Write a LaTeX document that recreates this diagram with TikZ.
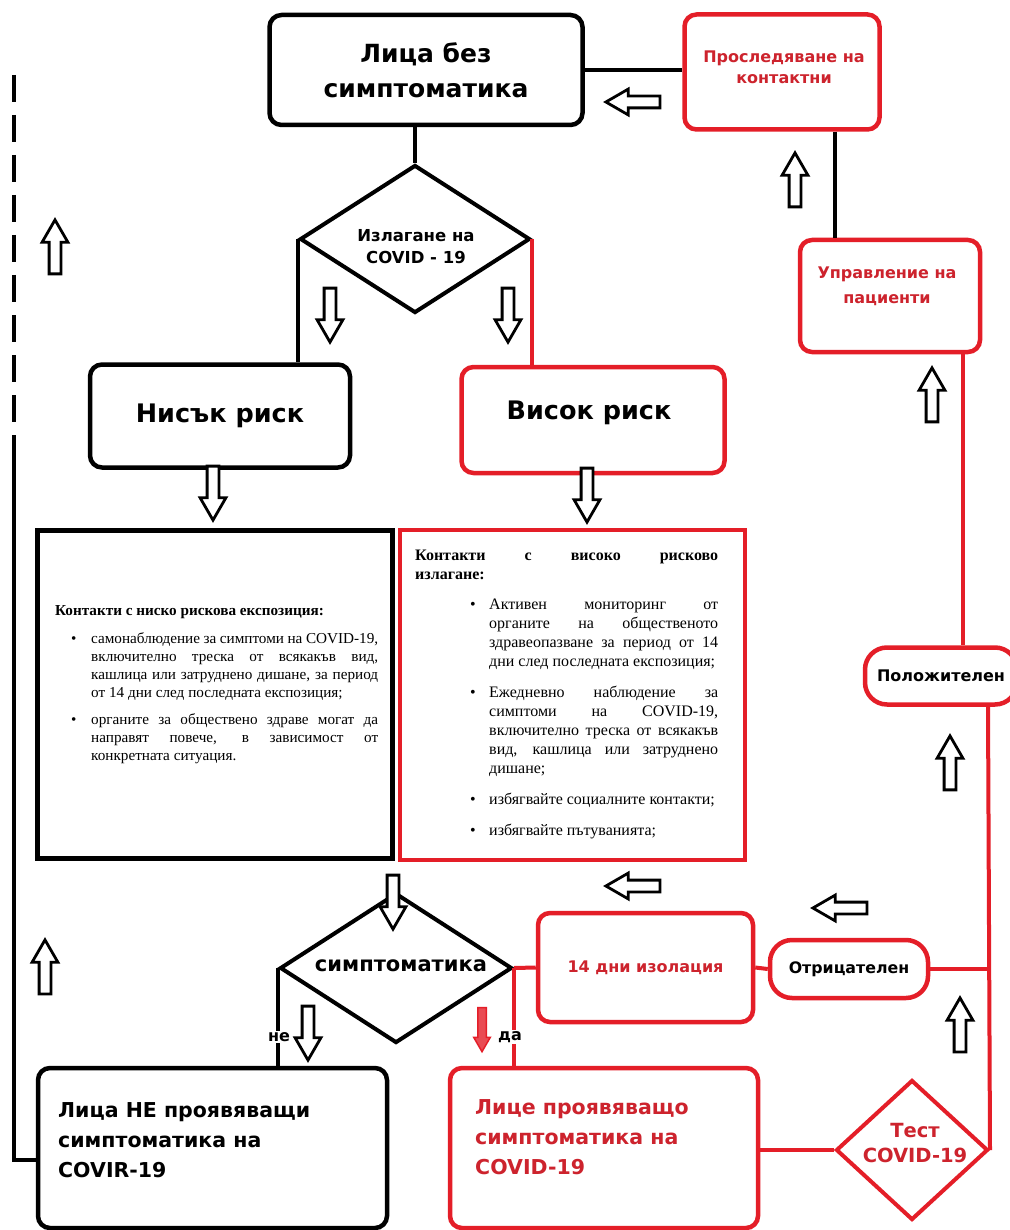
\documentclass[tikz,border=0pt]{standalone}
\usepackage{fontspec}
\setmainfont{Liberation Serif}
\newfontfamily\dvs{DejaVu Sans}
\usetikzlibrary{shapes.geometric,shapes.arrows}
\definecolor{rd}{RGB}{228,30,40}
\definecolor{rdt}{RGB}{205,35,45}
\newcommand\sfb[2]{\dvs\bfseries\fontsize{#1}{#2}\selectfont}
\newcommand\jl[2]{\makebox[#1][s]{#2}}
\begin{document}
\begin{tikzpicture}[x=1pt,y=-1pt,
  bx/.style={draw=black, line width=4.5pt, rounded corners=12pt, fill=white, inner sep=0pt},
  rbx/.style={bx, draw=rd},
  dia/.style={diamond, draw=black, line width=4pt, fill=white, inner sep=0pt},
  lnk/.style={line width=4pt, black},
  rlnk/.style={line width=4pt, rd},
  txt/.style={inner sep=0pt},
  harrow/.style={single arrow, draw=black, fill=white, line width=2.8pt, minimum height=54pt, inner xsep=0pt, inner ysep=4.5pt, single arrow head extend=7pt, single arrow tip angle=60},
  lbl/.style={fill=white, inner sep=1.5pt, font=\sfb{16}{18}}
]
\useasboundingbox (0,0) rectangle (1009,1230);
\fill[white] (0,0) rectangle (1009,1230);

% coordinates for vertical runs
\coordinate (tv) at (835,0);
\coordinate (mv) at (963,0);
\coordinate (rv) at (988,0);
\coordinate (lb) at (14,1160);
\coordinate (lm) at (14,443);
\coordinate (lt) at (14,75);

% boxes
\node[bx, minimum width=313pt, minimum height=110pt, align=center, font=\sfb{25}{35}] (top) at (426,70) {Лица без\\симптоматика};
\node[rbx, minimum width=195pt, minimum height=115pt] (trace) at (782,72) {};
\node[txt, font=\sfb{16}{21}, text=rdt, align=center] (traceT) at (784,67) {Проследяване на\\контактни};
\node[rbx, minimum width=180pt, minimum height=112pt] (mgmt) at (890,296) {};
\node[txt, font=\sfb{16}{25}, text=rdt, align=center] (mgmtT) at (887,286) {Управление на\\пациенти};

\node[dia, minimum width=230pt, minimum height=148pt] (expo) at (415,239) {};
\node[txt, font=\sfb{16.5}{22}, align=center] (expoT) at (416,247) {Излагане на\\COVID - 19};

\node[bx, minimum width=260pt, minimum height=103pt, font=\sfb{25.5}{30}] (low) at (220,416) {Нисък риск};
\node[rbx, minimum width=263pt, minimum height=106pt] (high) at (593,420) {};
\node[txt, font=\sfb{25.5}{30}] (highT) at (589,413) {Висок риск};

\node[draw=black, line width=5pt, minimum width=355pt, minimum height=328pt, inner sep=0pt] (lowBox) at (214.5,694) {};
\node[draw=rd, line width=4.5pt, minimum width=345pt, minimum height=330pt, inner sep=0pt] (highBox) at (572.5,695) {};

\node[dia, minimum width=232pt, minimum height=150pt] (sym) at (396,968) {};
\node[txt, font=\sfb{21}{24}] (symT) at (401,966) {симптоматика};

\node[rbx, minimum width=215pt, minimum height=109pt, font=\sfb{16}{18}, text=rdt] (iso) at (645.5,967.5) {14 дни изолация};
\node[rbx, rounded corners=22pt, minimum width=158pt, minimum height=58pt, font=\sfb{15.8}{18}] (neg) at (849,969) {Отрицателен};
\node[rbx, rounded corners=22pt, minimum width=152pt, minimum height=57pt, font=\sfb{16}{18}] (pos) at (941,676) {Положителен};
\node[dia, draw=rd, minimum width=152pt, minimum height=140pt] (test) at (912,1150) {};
\node[txt, font=\sfb{19.5}{25}, text=rdt, align=center] (testT) at (915,1143) {Тест\\COVID-19};

\node[bx, minimum width=349pt, minimum height=160pt] (noSym) at (212.5,1148) {};
\node[txt, font=\sfb{20.5}{30}, align=left, anchor=west] (noSymT) at (58,1140) {Лица НЕ проявяващи\\симптоматика на\\COVIR-19};
\node[rbx, minimum width=308pt, minimum height=160pt] (symBox) at (604,1148) {};
\node[txt, font=\sfb{20.5}{30}, text=rdt, align=left, anchor=west] (symBoxT) at (475,1137) {Лице проявяващо\\симптоматика на\\COVID-19};

% text of the two info boxes
\node[txt, anchor=north west, align=left, font=\fontsize{15.2}{18}\selectfont] (lowTxt) at (55,605) {%
{\bfseries Контакти с ниско рискова експозиция:}\\[10pt]
\hspace*{16pt}\makebox[20pt][l]{•}\jl{287pt}{самонаблюдение за симптоми на COVID-19,}\\
\hspace*{36pt}\jl{287pt}{включително треска от всякакъв вид,}\\
\hspace*{36pt}\jl{287pt}{кашлица или затруднено дишане, за период}\\
\hspace*{36pt}от 14 дни след последната експозиция;\\[9pt]
\hspace*{16pt}\makebox[20pt][l]{•}\jl{287pt}{органите за обществено здраве могат да}\\
\hspace*{36pt}\jl{287pt}{направят повече, в зависимост от}\\
\hspace*{36pt}конкретната ситуация.};

\node[txt, anchor=north west, align=left, font=\fontsize{16}{19}\selectfont] (highTxt) at (415,550) {%
\jl{303pt}{\bfseries Контакти с високо рисково}\\
{\bfseries излагане:}\\[11pt]
\hspace*{55pt}\makebox[19pt][l]{•}\jl{229pt}{Активен мониторинг от}\\
\hspace*{74pt}\jl{229pt}{органите на общественото}\\
\hspace*{74pt}\jl{229pt}{здравеопазване за период от 14}\\
\hspace*{74pt}дни след последната експозиция;\\[12pt]
\hspace*{55pt}\makebox[19pt][l]{•}\jl{229pt}{Ежедневно наблюдение за}\\
\hspace*{74pt}\jl{229pt}{симптоми на COVID-19,}\\
\hspace*{74pt}\jl{229pt}{включително треска от всякакъв}\\
\hspace*{74pt}\jl{229pt}{вид, кашлица или затруднено}\\
\hspace*{74pt}дишане;\\[12pt]
\hspace*{55pt}\makebox[19pt][l]{•}избягвайте социалните контакти;\\[12pt]
\hspace*{55pt}\makebox[19pt][l]{•}избягвайте пътуванията;};

% connectors
\draw[lnk] (top.east) -- (top.east -| trace.west);
\draw[lnk] (expo.north |- top.south) -- (expo.north);
\draw[lnk] (trace.south -| tv) -- (mgmt.north -| tv);
\draw[rlnk] (mgmt.south -| mv) -- (pos.north -| mv);
\draw[rlnk] (pos.south -| rv) -- (test.east);
\draw[rlnk] (neg.east) -- (neg.east -| rv);
\draw[rlnk] (iso.east) -- (neg.west);
\draw[rlnk] (sym.east) -- (iso.west);
\draw[rlnk] (sym.east) -- (sym.east |- symBox.north);
\draw[rlnk] (test.west) -- (test.west -| symBox.east);
\draw[lnk] (expo.west) -- (expo.west |- low.north);
\draw[rlnk] (expo.east) -- (expo.east |- high.north);
\draw[lnk] (sym.west) -- (sym.west |- noSym.north);
\draw[lnk, line join=miter] (noSym.west |- lb) -- (lb) -- (lm);
\draw[lnk, dash pattern=on 27pt off 13pt] (lt) -- (lm);

% labels on connectors
\node[lbl] (no) at (279,1037) {не};
\node[lbl] (yes) at (510,1037) {да};

% hollow block arrows
\node[harrow, rotate=180] (a1) at (638,102) {};
\node[harrow, rotate=90] (a2) at (795,185) {};
\node[harrow, rotate=90] (a3) at (55,252) {};
\node[harrow, rotate=-90] (a4) at (330,310) {};
\node[harrow, rotate=-90] (a5) at (508,310) {};
\node[harrow, rotate=-90] (a6) at (213,488) {};
\node[harrow, rotate=-90] (a7) at (587,490) {};
\node[harrow, rotate=90] (a8) at (932,400) {};
\node[harrow, rotate=90] (a9) at (950,768) {};
\node[harrow, rotate=180] (a10) at (638,886) {};
\node[harrow, rotate=180] (a11) at (845,908) {};
\node[harrow, rotate=-90] (a12) at (393,897) {};
\node[harrow, rotate=90] (a13) at (45,972) {};
\node[harrow, rotate=-90] (a14) at (308,1028) {};
\node[harrow, rotate=-90, draw=rd, fill=rd!80, line width=1.5pt, minimum height=44pt, inner ysep=3.5pt, single arrow head extend=4pt] (a15) at (482,1026) {};
\node[harrow, rotate=90] (a16) at (960,1030) {};
\end{tikzpicture}
\end{document}
